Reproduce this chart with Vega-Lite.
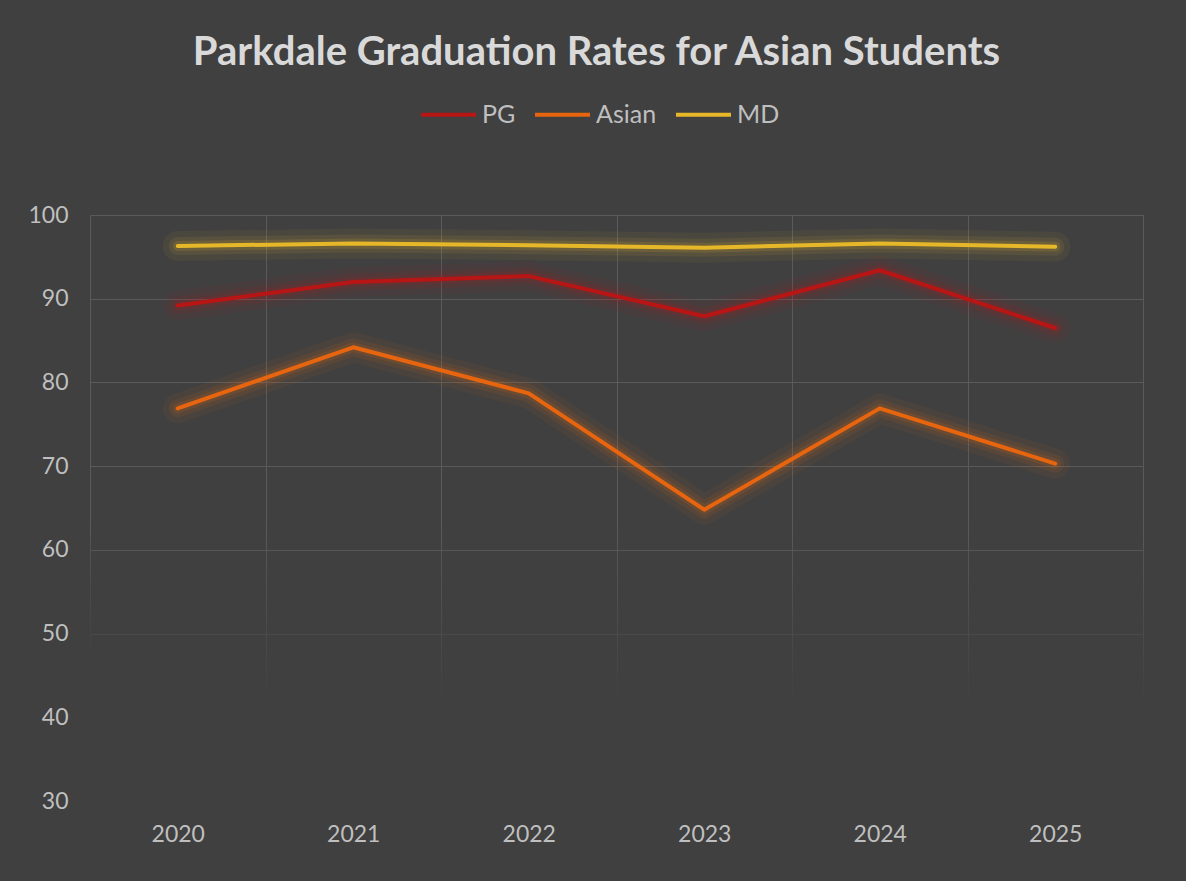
{
  "$schema": "https://vega.github.io/schema/vega-lite/v6.json",
  "autosize": {"type": "none"},
  "width": 1053,
  "height": 586,
  "padding": {"left": 90, "top": 215, "right": 43, "bottom": 80},
  "background": "#404040",
  "title": {
    "text": "Parkdale Graduation Rates for Asian Students",
    "font": "Lato",
    "fontSize": 40,
    "fontWeight": "bold",
    "color": "#d9d9d9",
    "anchor": "middle",
    "dx": -20,
    "offset": 12
  },
  "config": {
    "view": {"stroke": null},
    "axis": {
      "labelFont": "Lato",
      "labelFontSize": 23,
      "labelColor": "#bfbfbf",
      "gridColor": "#5a5a5a",
      "gridWidth": 1,
      "domain": false,
      "ticks": false,
      "title": null
    },
    "legend": {
      "labelFont": "Lato",
      "labelFontSize": 25,
      "labelColor": "#bfbfbf"
    }
  },
  "data": {
    "values": [
      {"year": "2020", "series": "PG", "value": 89.2},
      {"year": "2021", "series": "PG", "value": 92.0},
      {"year": "2022", "series": "PG", "value": 92.7},
      {"year": "2023", "series": "PG", "value": 87.9},
      {"year": "2024", "series": "PG", "value": 93.4},
      {"year": "2025", "series": "PG", "value": 86.5},
      {"year": "2020", "series": "Asian", "value": 76.9},
      {"year": "2021", "series": "Asian", "value": 84.2},
      {"year": "2022", "series": "Asian", "value": 78.7},
      {"year": "2023", "series": "Asian", "value": 64.8},
      {"year": "2024", "series": "Asian", "value": 76.9},
      {"year": "2025", "series": "Asian", "value": 70.3},
      {"year": "2020", "series": "MD", "value": 96.3},
      {"year": "2021", "series": "MD", "value": 96.6},
      {"year": "2022", "series": "MD", "value": 96.4},
      {"year": "2023", "series": "MD", "value": 96.1},
      {"year": "2024", "series": "MD", "value": 96.6},
      {"year": "2025", "series": "MD", "value": 96.2}
    ]
  },
  "layer": [
    {
      "mark": {"type": "line", "strokeWidth": 30, "opacity": 0.06, "strokeCap": "round", "strokeJoin": "round"},
      "encoding": {
        "x": {
          "field": "year",
          "type": "ordinal",
          "scale": {"type": "band", "paddingInner": 0, "paddingOuter": 0},
          "axis": {"labelAngle": 0, "tickBand": "extent", "grid": true, "labelPadding": 22}
        },
        "y": {
          "field": "value",
          "type": "quantitative",
          "scale": {"domain": [30, 100], "nice": false, "zero": false},
          "axis": {"values": [30, 40, 50, 60, 70, 80, 90, 100], "grid": true, "labelPadding": 22}
        },
        "color": {
          "field": "series",
          "type": "nominal",
          "scale": {"domain": ["PG", "Asian", "MD"], "range": ["#c0161a", "#ea6a12", "#e8b92b"]},
          "legend": null
        }
      }
    },
    {
      "data": {"values": [{}]},
      "mark": {
        "type": "rect",
        "strokeWidth": 3,
        "fill": {
          "gradient": "linear",
          "x1": 0, "y1": 0, "x2": 0, "y2": 1,
          "stops": [
            {"offset": 0, "color": "rgba(64,64,64,0)"},
            {"offset": 0.35, "color": "rgba(64,64,64,0.55)"},
            {"offset": 0.65, "color": "rgba(64,64,64,1)"},
            {"offset": 1, "color": "#404040"}
          ]
        },
        "stroke": {
          "gradient": "linear",
          "x1": 0, "y1": 0, "x2": 0, "y2": 1,
          "stops": [
            {"offset": 0, "color": "rgba(64,64,64,0)"},
            {"offset": 0.35, "color": "rgba(64,64,64,0.55)"},
            {"offset": 0.65, "color": "rgba(64,64,64,1)"},
            {"offset": 1, "color": "#404040"}
          ]
        }
      },
      "encoding": {
        "y": {"datum": 63, "type": "quantitative"},
        "y2": {"datum": 29.6}
      }
    },
    {
      "mark": {"type": "line", "strokeWidth": 18, "opacity": 0.09, "strokeCap": "round", "strokeJoin": "round"},
      "encoding": {
        "x": {"field": "year", "type": "ordinal"},
        "y": {"field": "value", "type": "quantitative"},
        "color": {
          "field": "series",
          "type": "nominal",
          "scale": {"domain": ["PG", "Asian", "MD"], "range": ["#c0161a", "#ea6a12", "#e8b92b"]},
          "legend": null
        }
      }
    },
    {
      "mark": {"type": "line", "strokeWidth": 10, "opacity": 0.14, "strokeCap": "round", "strokeJoin": "round"},
      "encoding": {
        "x": {"field": "year", "type": "ordinal"},
        "y": {"field": "value", "type": "quantitative"},
        "color": {
          "field": "series",
          "type": "nominal",
          "scale": {"domain": ["PG", "Asian", "MD"], "range": ["#c0161a", "#ea6a12", "#e8b92b"]},
          "legend": null
        }
      }
    },
    {
      "mark": {"type": "line", "strokeWidth": 4, "strokeCap": "round", "strokeJoin": "round"},
      "encoding": {
        "x": {"field": "year", "type": "ordinal"},
        "y": {"field": "value", "type": "quantitative"},
        "color": {
          "field": "series",
          "type": "nominal",
          "scale": {"domain": ["PG", "Asian", "MD"], "range": ["#b81515", "#e8650f", "#e6b829"]},
          "legend": {
            "title": null,
            "orient": "none",
            "direction": "horizontal",
            "legendX": 329,
            "legendY": -130,
            "symbolType": "stroke",
            "symbolSize": 3025,
            "symbolStrokeWidth": 4,
            "labelOffset": 4,
            "columnPadding": 11
          }
        }
      }
    }
  ],
  "resolve": {"scale": {"color": "independent"}}
}
